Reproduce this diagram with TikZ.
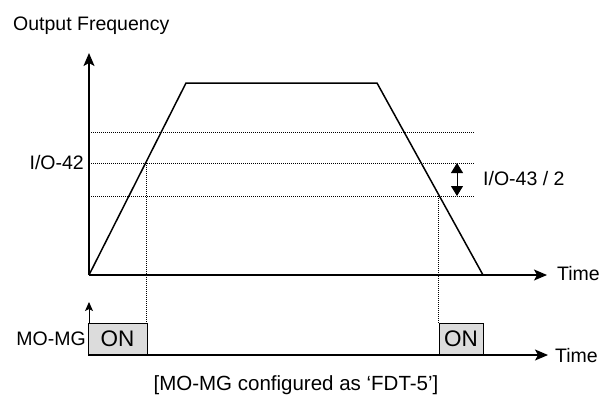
\documentclass[tikz,border=0pt]{standalone}
\usepackage{fontspec}
\setmainfont{Liberation Sans}
\usetikzlibrary{arrows.meta}
\definecolor{onfill}{HTML}{DCDCDC}
\tikzset{
  axisline/.style={line width=1.4pt,-{Stealth[length=13pt,width=11pt,inset=3pt]}},
  curveline/.style={line width=1.5pt,line join=miter},
  dotline/.style={line width=0.8pt,dash pattern=on 1pt off 1pt},
  onbox/.style={draw,line width=0.9pt,fill=onfill,inner sep=0pt,font=\fontsize{22.5}{24}\selectfont},
  lbl/.style={inner sep=0pt,font=\fontsize{19.5}{21}\selectfont},
  capt/.style={inner sep=0pt,font=\fontsize{20.5}{22}\selectfont},
  smallarrow/.style={line width=1pt,-{Stealth[length=9pt,width=8pt,inset=2pt]}},
  dblarrow/.style={line width=1pt,{Triangle[length=10pt,width=12pt]}-{Triangle[length=10pt,width=12pt]}}
}
\begin{document}
\begin{tikzpicture}[x=1pt,y=-1pt]
\useasboundingbox (0,0) rectangle (615,400);
% key points
\coordinate (O) at (89,275);
\coordinate (Ytop) at (89,53);
\coordinate (Xend) at (547,275);
\coordinate (P1) at (186,83);
\coordinate (P2) at (377,83);
\coordinate (P3) at (483,275);
\coordinate (L1a) at (91,132);
\coordinate (L1b) at (474,132);
\coordinate (L2a) at (91,163);
\coordinate (L2b) at (474,163);
\coordinate (L3a) at (91,196);
\coordinate (L3b) at (474,196);
\coordinate (A) at (146.5,163);
\coordinate (B) at (438.5,196);
\coordinate (DA) at (457,163);
\coordinate (DB) at (457,196);
\coordinate (S0) at (89,323);
\coordinate (S1) at (89,302);
\coordinate (T0) at (89,355);
\coordinate (Tend) at (548,355);
% dotted guide lines
\draw[dotline] (L1a) -- (L1b);
\draw[dotline] (L2a) -- (L2b);
\draw[dotline] (L3a) -- (L3b);
% ON boxes
\node[onbox,minimum width=59pt,minimum height=32pt] (on1) at (117.5,339) {ON};
\node[onbox,minimum width=44pt,minimum height=32pt] (on2) at (461,339) {ON};
% vertical dotted lines
\draw[dotline] (A) -- (A |- on1.north);
\draw[dotline] (B) -- (B |- on2.north);
% axes
\draw[axisline] (O) -- (Ytop);
\draw[axisline] (O) -- (Xend);
\draw[axisline] (T0) -- (Tend);
\draw[smallarrow] (S0) -- (S1);
% trapezoid
\draw[curveline] (O) -- (P1) -- (P2) -- (P3);
% double arrow
\draw[dblarrow] (DA) -- (DB);
% labels
\node[lbl,anchor=west] (of) at (13,26) {Output Frequency};
\node[lbl,anchor=west] (t1) at (557,274) {Time};
\node[lbl,anchor=west] (t2) at (555,356) {Time};
\node[lbl,anchor=east] (io42) at (84,163) {I/O-42};
\node[lbl,anchor=west] (io43) at (483,179) {I/O-43 / 2};
\node[lbl,anchor=east] (momg) at (86,339) {MO-MG};
\node[capt] (cap) at (296,385) {[MO-MG configured as ‘FDT-5’]};
\end{tikzpicture}
\end{document}
